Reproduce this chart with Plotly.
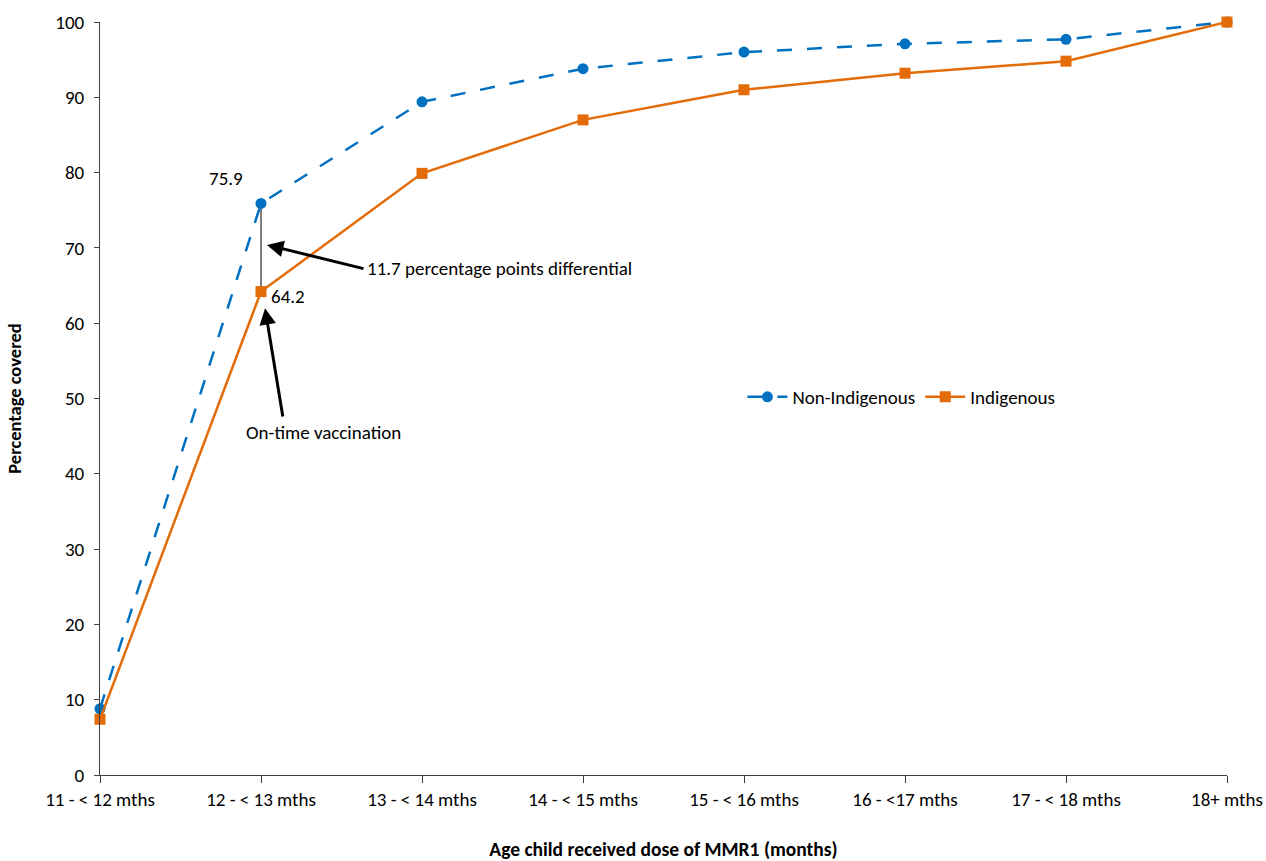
import plotly.graph_objects as go

categories = ["11 - < 12 mths", "12 - < 13 mths", "13 - < 14 mths", "14 - < 15 mths",
              "15 - < 16 mths", "16 - <17 mths", "17 - < 18 mths", "18+ mths"]
non_indigenous = [8.8, 75.9, 89.4, 93.8, 96.0, 97.1, 97.7, 100.0]
indigenous = [7.4, 64.2, 79.9, 87.0, 91.0, 93.2, 94.8, 100.0]

FONT = "Carlito, Lato, 'Open Sans', sans-serif"
BLUE = "#0070C0"
ORANGE = "#E36C09"
FS = 19

xi = list(range(len(categories)))

fig = go.Figure()
fig.add_trace(go.Scatter(
    x=xi, y=non_indigenous, name="Non-Indigenous", mode="lines+markers",
    line=dict(color=BLUE, width=2.5, dash="longdash"),
    marker=dict(symbol="circle", size=11, color=BLUE),
    cliponaxis=False,
))
fig.add_trace(go.Scatter(
    x=xi, y=indigenous, name="Indigenous", mode="lines+markers",
    line=dict(color=ORANGE, width=2.5),
    marker=dict(symbol="square", size=11, color=ORANGE),
    cliponaxis=False,
))

fig.add_shape(type="line", x0=1, x1=1, y0=non_indigenous[1], y1=indigenous[1],
              line=dict(color="black", width=1), layer="below")

fig.update_layout(
    width=1266, height=861,
    margin=dict(l=100, r=39, t=22, b=86),
    paper_bgcolor="white", plot_bgcolor="white",
    font=dict(family=FONT, size=FS, color="black"),
    showlegend=True,
    legend=dict(orientation="h", x=0.57, y=0.502, xanchor="left", yanchor="middle",
                font=dict(size=FS), bgcolor="rgba(0,0,0,0)", itemwidth=40),
    xaxis=dict(
        range=[0, 7], tickmode="array", tickvals=xi, ticktext=categories,
        showgrid=False, zeroline=False, showline=True, linecolor="#404040", linewidth=1,
        ticks="outside", ticklen=7, tickcolor="#404040", automargin=False,
        title=dict(text="<b>Age child received dose of MMR1 (months)</b>", font=dict(size=19.5), standoff=44),
    ),
    yaxis=dict(
        range=[0, 100], tickvals=list(range(0, 101, 10)),
        showgrid=False, zeroline=False, showline=True, linecolor="#404040", linewidth=1,
        ticks="outside", ticklen=5, tickcolor="#404040", automargin=False,
        ticklabelstandoff=6,
        title=dict(text="<b>Percentage covered</b>", font=dict(size=18.5), standoff=28),
    ),
)

annotations = [
    dict(x=0.78, y=79.2, text="75.9", showarrow=False, xanchor="center", yanchor="middle"),
    dict(x=1.165, y=63.6, text="64.2", showarrow=False, xanchor="center", yanchor="middle"),
    dict(x=1.646, y=67.2, text="11.7 percentage points differential", showarrow=False,
         xanchor="left", yanchor="middle"),
    dict(x=1.39, y=45.5, text="On-time vaccination", showarrow=False,
         xanchor="center", yanchor="middle"),
    dict(x=1.037, y=70.4, ax=1.646, ay=67.2, axref="x", ayref="y", text="",
         showarrow=True, arrowhead=2, arrowsize=1.1, arrowwidth=3, arrowcolor="black"),
    dict(x=1.025, y=62.0, ax=1.137, ay=47.4, axref="x", ayref="y", text="",
         showarrow=True, arrowhead=2, arrowsize=1.1, arrowwidth=3, arrowcolor="black"),
]
fig.update_layout(annotations=annotations)

fig.write_html("out.html", config={"displayModeBar": False},
               post_script="document.body.style.margin='0';document.body.style.overflow='hidden';")
